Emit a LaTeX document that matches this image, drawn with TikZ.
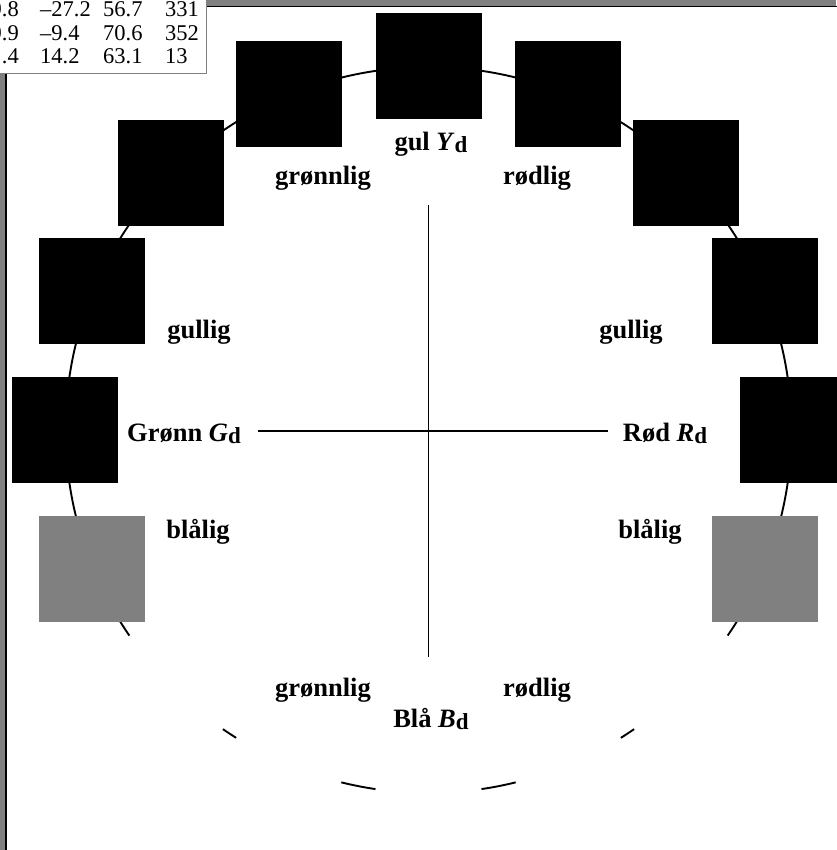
\documentclass[tikz,border=0pt]{standalone}
\usepackage{fontspec}
\setmainfont{Liberation Serif}
\definecolor{framegray}{gray}{0.5}
\newcommand{\subd}{\raisebox{-2pt}{\fontsize{23}{23}\selectfont d}}
\begin{document}
\begin{tikzpicture}[x=1pt,y=1pt,
  lab/.style={font=\fontsize{26.5}{26.5}\selectfont\bfseries, anchor=base, inner sep=0pt},
  tabw/.style={font=\fontsize{22.5}{22.5}\selectfont, anchor=base west, inner sep=0pt},
  tabe/.style={font=\fontsize{22.5}{22.5}\selectfont, anchor=base east, inner sep=0pt},
  sq/.style={minimum size=106pt, inner sep=0pt, fill=black},
  sqg/.style={minimum size=106pt, inner sep=0pt, fill=framegray},
  ring/.style={line width=1.9pt},
  axis/.style={line width=1.9pt}]
\useasboundingbox (0,0) rectangle (836,850);
% frame
\fill[framegray] (0,0) rectangle (836,850);
\filldraw[fill=white, draw=black, line width=1.8pt] (5.6,-20) rectangle (860,843.5);
% table box
\filldraw[fill=white, draw=framegray, line width=1pt] (-20,776) rectangle (206,870);
\node[tabe] (t11) at (19,833) {9.8};
\node[tabw] (t12) at (40,833) {\textendash27.2};
\node[tabw] (t13) at (103,833) {56.7};
\node[tabw] (t14) at (165,833) {331};
\node[tabe] (t21) at (19,809.5) {9.9};
\node[tabw] (t22) at (40,809.5) {\textendash9.4};
\node[tabw] (t23) at (103,809.5) {70.6};
\node[tabw] (t24) at (165,809.5) {352};
\node[tabe] (t31) at (19,786) {.4};
\node[tabw] (t32) at (40,786) {14.2};
\node[tabw] (t33) at (103,786) {63.1};
\node[tabw] (t34) at (165,786) {13};
% circle
\coordinate (C) at (428.5,420);
\draw[ring] ([shift={(-34.5:363)}]C) arc[start angle=-34.5, end angle=214.5, radius=363];
\draw[ring] ([shift={(235.5:363)}]C) arc[start angle=235.5, end angle=238, radius=363];
\draw[ring] ([shift={(256.1:363)}]C) arc[start angle=256.1, end angle=261.6, radius=363];
\draw[ring] ([shift={(278.4:363)}]C) arc[start angle=278.4, end angle=283.9, radius=363];
\draw[ring] ([shift={(302:363)}]C) arc[start angle=302, end angle=304.5, radius=363];
% squares
\node[sq] (s90) at ([shift={(90:364)}]C) {};
\node[sq] (s112) at ([shift={(112.5:364)}]C) {};
\node[sq] (s135) at ([shift={(135:364)}]C) {};
\node[sq] (s157) at ([shift={(157.5:364)}]C) {};
\node[sq] (s180) at ([shift={(180:364)}]C) {};
\node[sqg] (s202) at ([shift={(202.5:364)}]C) {};
\node[sq] (s67) at ([shift={(67.5:364)}]C) {};
\node[sq] (s45) at ([shift={(45:364)}]C) {};
\node[sq] (s22) at ([shift={(22.5:364)}]C) {};
\node[sq] (s0) at ([shift={(0:364)}]C) {};
\node[sqg] (sm22) at ([shift={(-22.5:364)}]C) {};
% labels
\node[lab] (gulY) at (431,699) {gul \textit{Y}\subd};
\node[lab] (gr1) at (323,665) {grønnlig};
\node[lab] (rd1) at (537,665) {rødlig};
\node[lab] (gu1) at (199,511) {gullig};
\node[lab] (gu2) at (631,511) {gullig};
\node[lab] (grG) at (184,408) {Grønn \textit{G}\subd};
\node[lab] (rdR) at (665,408) {Rød \textit{R}\subd};
\node[lab] (bl1) at (198,311) {blålig};
\node[lab] (bl2) at (650,311) {blålig};
\node[lab] (gr2) at (323,153) {grønnlig};
\node[lab] (rd2) at (537,153) {rødlig};
\node[lab] (blB) at (431,122) {Blå \textit{B}\subd};
% axes
\coordinate (hl) at (258,419);
\coordinate (hr) at (608,419);
\coordinate (vt) at (428.5,645);
\coordinate (vb) at (428.5,193);
\draw[axis] (hl) -- (hr);
\draw[axis] (vt) -- (vb);
\end{tikzpicture}
\end{document}
